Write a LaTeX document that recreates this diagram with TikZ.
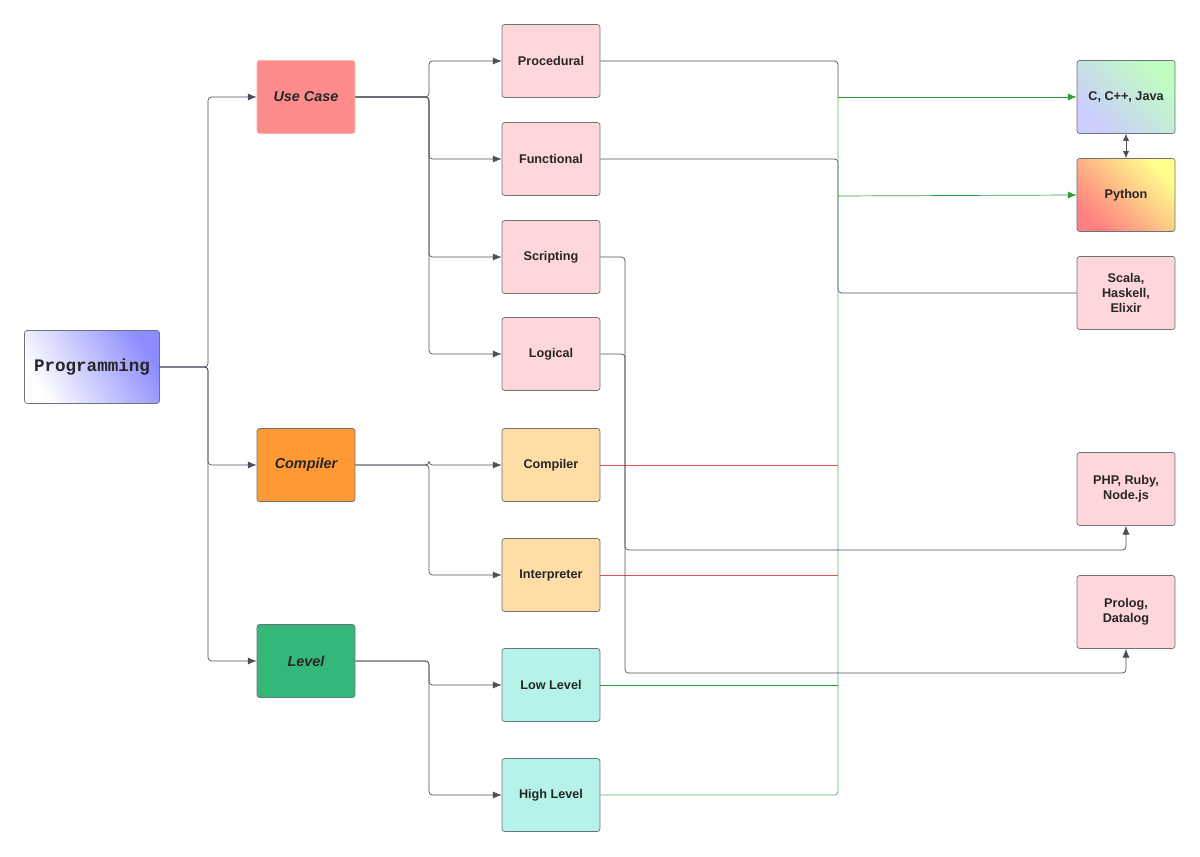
\documentclass[tikz,border=0pt]{standalone}
\usepackage{fontspec}
\setmainfont{Liberation Sans}
\newfontfamily\monofont{Liberation Mono}
\usetikzlibrary{arrows.meta}
\definecolor{edgegray}{HTML}{4A4F5A}
\definecolor{busgreen}{HTML}{2E9E3A}
\definecolor{busred}{HTML}{D9534F}
\definecolor{pinkbox}{HTML}{FFD6D9}
\definecolor{sandbox}{HTML}{FFDDA6}
\definecolor{mintbox}{HTML}{B5F2EA}
\begin{document}
\begin{tikzpicture}[x=0.02cm, y=-0.02cm]
% node styles
\tikzset{
  box/.style   = {draw=edgegray!80, rounded corners=1.5pt, minimum width=1.96cm, minimum height=1.46cm,
                  align=center, font=\fontsize{7.2}{8.6}\selectfont\bfseries, text=black!85},
  group/.style = {box, font=\fontsize{8.2}{9}\selectfont\bfseries\itshape},
  link/.style  = {edgegray, rounded corners=2pt, thin},
  arr/.style   = {-{Latex[length=5pt,width=4pt]}}
}
\useasboundingbox (0,0) rectangle (1200,857);

% root
\node [box, minimum width=2.7cm, font=\monofont\fontsize{10}{12}\selectfont\bfseries,
       left color=white, right color=blue!45, shading angle=120] (prog) at (92,367) {Programming};

% group nodes
\node [group, fill=red!45, draw=red!30] (usecase) at (306,97) {Use Case};
\node [group, fill=orange!80] (comp) at (306,465) {Compiler};
\node [group, fill=teal!70!green!80] (level) at (306,661) {Level};

% second column
\foreach \v/\t/\y/\c in {proc/Procedural/61/pinkbox, func/Functional/159/pinkbox,
    scri/Scripting/257/pinkbox, logi/Logical/354/pinkbox, compl/Compiler/465/sandbox,
    interp/Interpreter/575/sandbox, low/Low Level/685/mintbox, high/High Level/795/mintbox}
    \node [box, fill=\c] (\v) at (551,\y) {\t};

% languages
\node [box, shading=axis, left color=blue!20, right color=green!25, shading angle=135] (cpp) at (1126,97) {C, C++, Java};
\node [box, shading=axis, left color=red!50, right color=yellow!45, shading angle=135] (py) at (1126,195) {Python};
\node [box, fill=pinkbox] (scala) at (1126,293) {Scala,\\Haskell,\\Elixir};
\node [box, fill=pinkbox] (php) at (1126,489) {PHP, Ruby,\\Node.js};
\node [box, fill=pinkbox] (prolog) at (1126,612) {Prolog,\\Datalog};

% tree edges
\foreach \to in {usecase, comp, level}
    \draw [link, arr] (prog.east) -- (208,367) |- (\to.west);
\foreach \to in {proc, func, scri, logi}
    \draw [link, arr] (usecase.east) -- (429,97) |- (\to.west);
\foreach \to in {compl, interp}
    \draw [link, arr] (comp.east) -- (429,465) |- (\to.west);
\foreach \to in {low, high}
    \draw [link, arr] (level.east) -- (429,661) |- (\to.west);

% bus edges
\draw [link] (proc.east) -- (838,61) -- (838,97);
\draw [link] (func.east) -- (838,159) |- (scala.west);
\draw [link, busred] (compl.east) -- (838,465);
\draw [link, busred] (interp.east) -- (838,575);
\draw [link, busgreen] (low.east) -- (838,685);
\draw [link, busgreen!80] (high.east) -- (838,795) -- (838,97);
\draw [link, busgreen, arr] (838,97) -- (cpp.west);
\draw [link, busgreen, arr] (838,196) -- (py.west);
\draw [link, arr] (scri.east) -- (625,257) -- (625,550) -| (php.south);
\draw [link, arr] (logi.east) -- (625,354) -- (625,673) -| (prolog.south);
\draw [edgegray, {Latex[length=4pt,width=3.5pt]}-{Latex[length=4pt,width=3.5pt]}] (cpp.south) -- (py.north);

\end{tikzpicture}
\end{document}
